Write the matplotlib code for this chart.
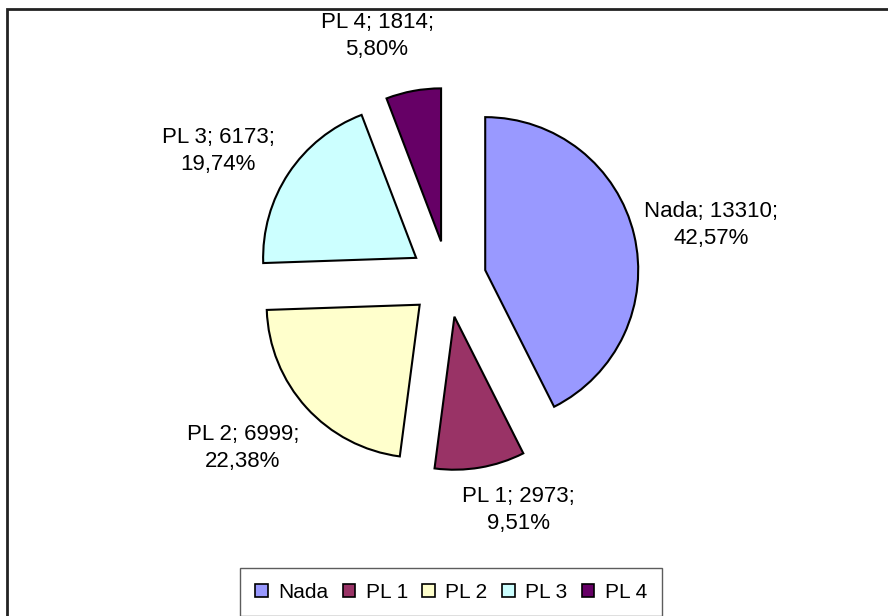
import matplotlib
matplotlib.use("Agg")
import matplotlib.pyplot as plt
from matplotlib.patches import Rectangle

plt.rcParams['font.family'] = ['Liberation Sans', 'DejaVu Sans']

# Data
categories = ["Nada", "PL 1", "PL 2", "PL 3", "PL 4"]
counts = [13310, 2973, 6999, 6173, 1814]
percents = ["42,57%", "9,51%", "22,38%", "19,74%", "5,80%"]
colors = ['#9999FF', '#993366', '#FFFFCC', '#CCFFFF', '#660066']

# label centres in pixel coords (x, y from top)
label_pos = [(711, 225), (518, 510), (243, 448), (218, 151), (377, 36)]

W, H = 888, 616
R = 153  # pie radius in pixels
fig = plt.figure(figsize=(W / 100, H / 100), dpi=100)
ax = fig.add_axes([0, 0, 1, 1])

# explode in pie() is absolute, so scale it by the radius
wedges, _ = ax.pie(counts, colors=colors, startangle=90, counterclock=False,
                   explode=[0.25 * R] * len(counts), center=(448, H - 279),
                   radius=R, wedgeprops=dict(edgecolor='black', linewidth=1.5))

# pie() resets the limits, so set pixel-like coords afterwards
ax.set_xlim(0, W)
ax.set_ylim(0, H)
ax.set_aspect('equal')
ax.axis('off')

# outer chart frame (cut off at right/bottom like the original)
ax.add_patch(Rectangle((7, -20), W + 20, H - 9 + 20, fill=False,
                       edgecolor='#222222', linewidth=2))

for cat, n, p, (x, y) in zip(categories, counts, percents, label_pos):
    ax.text(x, H - y, f"{cat}; {n};\n{p}", ha='center', va='center',
            fontsize=16, linespacing=1.4)

leg = fig.legend(wedges, categories, loc='upper center', ncol=5,
                 bbox_to_anchor=(451 / W, 1 - 568 / H), fontsize=15,
                 frameon=True, fancybox=False, edgecolor='#333333',
                 handlelength=0.6, handleheight=0.6, handletextpad=0.5,
                 columnspacing=0.7, borderpad=0.7, borderaxespad=0)
leg.get_frame().set_linewidth(1)
for h in leg.legend_handles:
    h.set_edgecolor('black')
    h.set_linewidth(1.2)

fig.savefig("out.png", dpi=100)
